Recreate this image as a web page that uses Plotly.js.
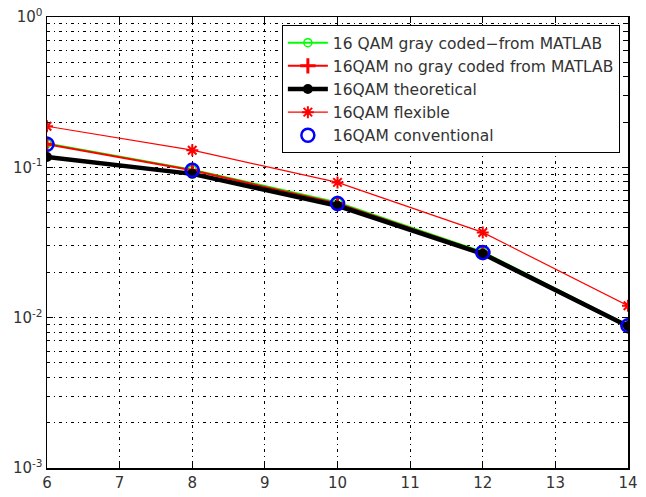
<!DOCTYPE html>
<html>
<head>
<meta charset="utf-8">
<script src="https://cdn.plot.ly/plotly-3.0.1.min.js"></script>
<style>html,body{margin:0;padding:0;background:#fff}#plot{width:646px;height:497px}</style>
</head>
<body>
<div id="plot"></div>
<script>
const snr = [6, 8, 10, 12, 14];
const grayCoded = [0.1440, 0.0965, 0.0585, 0.0274, 0.00890];
const noGrayCoded = [0.1423, 0.0955, 0.0575, 0.0271, 0.00885];
const theoretical = [0.1170, 0.0905, 0.0555, 0.0266, 0.00877];
const flexible = [0.1876, 0.1300, 0.0794, 0.0369, 0.0120];
const conventional = [0.1423, 0.0955, 0.0575, 0.0271, 0.00885];
const yTickVals = [0.001, 0.01, 0.1, 1];
const yTickText = ['10<sup>-3</sup>', '10<sup>-2</sup>', '10<sup>-1</sup>', '10<sup>0</sup>'];
const xTickVals = [6, 7, 8, 9, 10, 11, 12, 13, 14];

const traces = [
  {x: snr, y: grayCoded, name: '16 QAM gray coded\u2212from MATLAB', mode: 'lines+markers',
   line: {color: '#00ff00', width: 2}, marker: {symbol: 'circle-open', size: 8, color: '#00ff00', line: {width: 1.5}}, legendgroup: 'a'},
  {x: snr, y: noGrayCoded, name: '16QAM no gray coded from MATLAB', mode: 'lines+markers',
   line: {color: '#ff0000', width: 2}, marker: {symbol: 'cross-thin-open', size: 11, color: '#ff0000', line: {width: 3, color: '#ff0000'}}, legendgroup: 'b'},
  {x: snr, y: theoretical, name: '16QAM theoretical', mode: 'lines+markers',
   line: {color: '#000000', width: 4.5}, marker: {symbol: 'circle', size: 10, color: '#000000'}, legendgroup: 'c'},
  {x: snr, y: flexible, name: '16QAM flexible', mode: 'lines+markers',
   line: {color: '#ff0000', width: 1.2}, marker: {symbol: 'asterisk-open', size: 10, color: '#ff0000', line: {width: 2, color: '#ff0000'}}, legendgroup: 'd'},
  {x: snr, y: conventional, name: '16QAM conventional', mode: 'markers',
   marker: {symbol: 'circle-open', size: 13, color: '#0000ff', line: {width: 2.5, color: '#0000ff'}}, legendgroup: 'e'}
];

const gridDash = '3px,4px,1px,4px';
const layout = {
  width: 646, height: 497,
  margin: {l: 47, r: 18, t: 17, b: 29},
  paper_bgcolor: '#fff', plot_bgcolor: '#fff',
  font: {family: 'DejaVu Sans, Liberation Sans, sans-serif', size: 14, color: '#333'},
  showlegend: true,
  legend: {x: 0.986, y: 0.982, xanchor: 'right', yanchor: 'top', bgcolor: '#fff',
    bordercolor: '#000', borderwidth: 1, font: {family: 'DejaVu Sans, sans-serif', size: 15.5, color: '#333'},
    traceorder: 'grouped', tracegroupgap: 0, itemwidth: 40},
  xaxis: {range: [6, 14], tickvals: xTickVals, ticks: 'inside', ticklen: 6, tickcolor: '#000',
    showline: true, linecolor: '#000', linewidth: 1.5, mirror: 'allticks', zeroline: false,
    showgrid: true, gridcolor: '#000', griddash: gridDash, gridwidth: 1, tickfont: {size: 15}},
  yaxis: {type: 'log', range: [-3, 0], tickvals: yTickVals, ticktext: yTickText, ticks: 'inside', ticklen: 6,
    tickcolor: '#000', showline: true, linecolor: '#000', linewidth: 1.5, mirror: 'allticks', zeroline: false,
    showgrid: true, gridcolor: '#000', griddash: gridDash, gridwidth: 1, tickfont: {size: 15},
    minor: {ticks: 'inside', ticklen: 3, tickcolor: '#000', showgrid: true, gridcolor: '#000', griddash: gridDash, gridwidth: 1, dtick: 'D1'}}
};

Plotly.newPlot('plot', traces, layout, {displayModeBar: false, staticPlot: true});
</script>
</body>
</html>
